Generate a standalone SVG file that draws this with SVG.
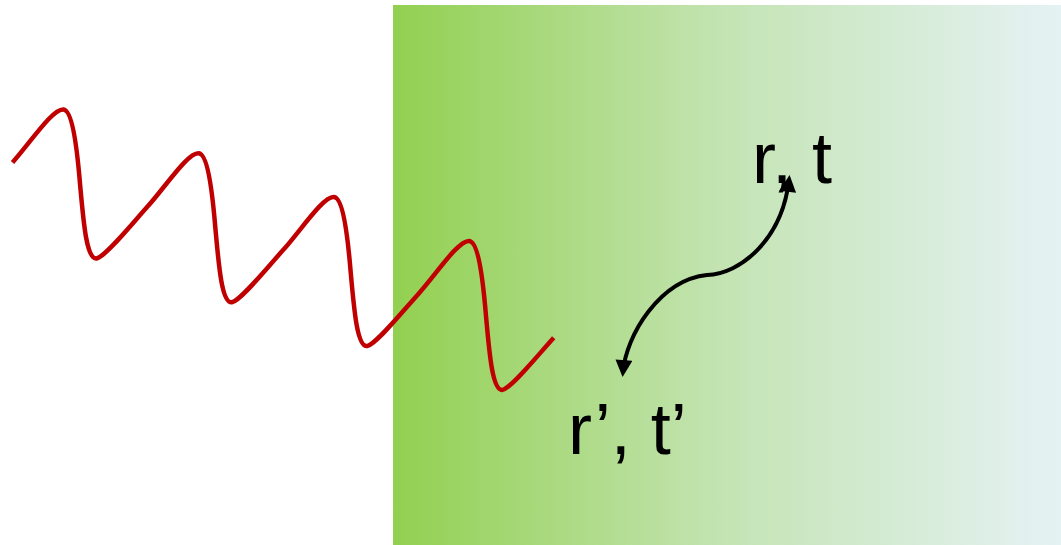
<svg xmlns="http://www.w3.org/2000/svg" width="1061" height="545" viewBox="0 0 1061 545">
  <defs>
    <linearGradient id="bg" x1="0" y1="0" x2="1" y2="0">
      <stop offset="0" stop-color="#92D050"/>
      <stop offset="0.5" stop-color="#C4E4B4"/>
      <stop offset="1" stop-color="#E5F2F4"/>
    </linearGradient>
    <marker id="ah" viewBox="0 0 10 10" refX="7" refY="5" markerUnits="userSpaceOnUse" markerWidth="18" markerHeight="17" orient="auto-start-reverse">
      <path d="M0,0 L10,5 L0,10 z" fill="#000"/>
    </marker>
    <style>
      .lbl { font-family: "Liberation Sans", Arial, sans-serif; font-size: 72px; fill: #000; }
      .wave { fill: none; stroke: #C00000; stroke-width: 4.5; stroke-linecap: butt; stroke-linejoin: round; }
      .conn { fill: none; stroke: #000; stroke-width: 4; }
    </style>
  </defs>
  <g id="medium">
    <rect x="393" y="5" width="668" height="540" fill="url(#bg)"/>
  </g>
  <g id="wave">
    <path class="wave" d="M12.5,162.5
      c 18,-20 40,-54 51,-53 c 8,1 13,32 16.5,74 c 3.5,39 6.5,76 16.5,75 c 9,-2 33.3,-32.2 51.3,-52.2
      c 18,-20 40,-54 51,-53 c 8,1 13,32 16.5,74 c 3.5,39 6.5,76 16.5,75 c 9,-2 33.3,-32.2 51.3,-52.2
      c 18,-20 40,-54 51,-53 c 8,1 13,32 16.5,74 c 3.5,39 6.5,76 16.5,75 c 9,-2 33.3,-32.2 51.3,-52.2
      c 18,-20 40,-54 51,-53 c 8,1 13,32 16.5,74 c 3.5,39 6.5,76 16.5,75 c 9,-2 33.3,-32.2 51.3,-52.2"/>
  </g>
  <g id="connectors">
    <path class="conn" d="M623,372 C626,335 660,280 707,275 C740,274 782,240 789,180" marker-start="url(#ah)" marker-end="url(#ah)"/>
  </g>
  <g id="label-rt">
    <text class="lbl" x="752" y="183">r, t</text>
  </g>
  <g id="label-rt-prime">
    <text class="lbl" x="568" y="454">r’, t’</text>
  </g>
</svg>
